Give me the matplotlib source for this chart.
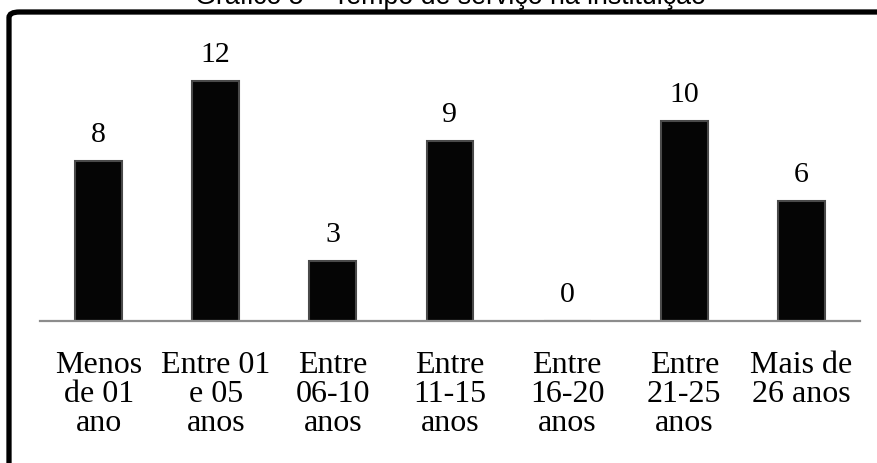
import matplotlib.pyplot as plt
from matplotlib.patches import FancyBboxPatch

categorias = ["Menos\nde 01\nano", "Entre 01\ne 05\nanos", "Entre\n06-10\nanos",
              "Entre\n11-15\nanos", "Entre\n16-20\nanos", "Entre\n21-25\nanos",
              "Mais de\n26 anos"]
valores = [8, 12, 3, 9, 0, 10, 6]
titulo = "Gráfico 5 – Tempo de serviço na instituição"

W, H = 878, 464
fig = plt.figure(figsize=(W / 100, H / 100), dpi=100)

# moldura preta (cortada à direita e embaixo)
moldura = FancyBboxPatch((9 / W, -0.2), 1.2, (H - 13) / H + 0.2,
                         boxstyle="round,pad=0,rounding_size=0.012",
                         transform=fig.transFigure, fill=False,
                         edgecolor="black", linewidth=3.8)
fig.patches.append(moldura)

# título cortado no topo, como no original
fig.text(450 / W, 1.0 - 4 / H, titulo, ha="center", va="baseline",
         family="Liberation Sans", fontsize=19.3)

ax = fig.add_axes([40 / W, (H - 322) / H, 820 / W, 302 / H])
x = range(len(valores))
ax.bar(x, valores, width=0.4, color="#050505", edgecolor="#4a4a4a",
       linewidth=1.5)
for xi, v in zip(x, valores):
    ax.annotate(str(v), (xi, v), xytext=(0, 27), textcoords="offset pixels",
                ha="center", va="center", family="Liberation Serif",
                fontsize=21.5)

ax.set_xlim(-0.5, len(valores) - 0.5)
ax.set_ylim(0, 15.1)
ax.set_xticks(list(x))
ax.set_xticklabels(categorias, family="Liberation Serif", fontsize=23,
                   linespacing=1.0)
ax.tick_params(axis="x", length=0, pad=21)
ax.set_yticks([])
for s in ["top", "left", "right"]:
    ax.spines[s].set_visible(False)
ax.spines["bottom"].set_color("#8c8c8c")
ax.spines["bottom"].set_linewidth(1.6)
ax.set_facecolor("none")

fig.savefig("out.png", dpi=100)
